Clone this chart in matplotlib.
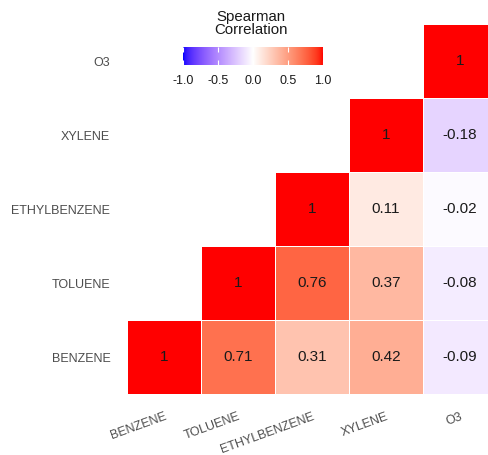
import numpy as np
import matplotlib
matplotlib.use("Agg")
import matplotlib.pyplot as plt
from matplotlib.colors import ListedColormap

plt.rcParams['font.family'] = ['Liberation Sans', 'DejaVu Sans']

# variables, bottom row / left column first
variables = ["BENZENE", "TOLUENE", "ETHYLBENZENE", "XYLENE", "O3"]
benzene = [1, 0.71, 0.31, 0.42, -0.09]
toluene = [0.71, 1, 0.76, 0.37, -0.08]
ethylbenzene = [0.31, 0.76, 1, 0.11, -0.02]
xylene = [0.42, 0.37, 0.11, 1, -0.18]
o3 = [-0.09, -0.08, -0.02, -0.18, 1]
corr = np.array([benzene, toluene, ethylbenzene, xylene, o3], dtype=float)
bar_ticks = [-1.0, -0.5, 0.0, 0.5, 1.0]


# blue - white - red gradient interpolated in CIELAB
def srgb_to_lab(c):
    c = np.asarray(c, dtype=float)
    lin = np.where(c <= 0.04045, c / 12.92, ((c + 0.055) / 1.055) ** 2.4)
    M = np.array([[0.4124, 0.3576, 0.1805],
                  [0.2126, 0.7152, 0.0722],
                  [0.0193, 0.1192, 0.9505]])
    xyz = M @ lin / np.array([0.95047, 1.0, 1.08883])
    f = np.where(xyz > 216 / 24389, np.cbrt(xyz), (24389 / 27 * xyz + 16) / 116)
    return np.array([116 * f[1] - 16, 500 * (f[0] - f[1]), 200 * (f[1] - f[2])])


def lab_to_srgb(lab):
    L, a, b = lab
    fy = (L + 16) / 116
    fx = fy + a / 500
    fz = fy - b / 200
    f = np.array([fx, fy, fz])
    xyz = np.where(f ** 3 > 216 / 24389, f ** 3, (116 * f - 16) / (24389 / 27))
    xyz = xyz * np.array([0.95047, 1.0, 1.08883])
    Minv = np.array([[3.2406, -1.5372, -0.4986],
                     [-0.9689, 1.8758, 0.0415],
                     [0.0557, -0.2040, 1.0570]])
    lin = Minv @ xyz
    lin = np.clip(lin, 0, 1)
    c = np.where(lin <= 0.0031308, 12.92 * lin, 1.055 * lin ** (1 / 2.4) - 0.055)
    return np.clip(c, 0, 1)


low = srgb_to_lab([0, 0, 1])
mid = srgb_to_lab([1, 1, 1])
high = srgb_to_lab([1, 0, 0])
cols = []
for t in np.linspace(0, 1, 512):
    if t < 0.5:
        lab = low + (mid - low) * (t / 0.5)
    else:
        lab = mid + (high - mid) * ((t - 0.5) / 0.5)
    cols.append(lab_to_srgb(lab))
cmap = ListedColormap(cols)

fig = plt.figure(figsize=(4.88, 4.55), dpi=100)
ax = fig.add_axes([0.2602, 0.134, 0.7582, 0.813])

n = len(variables)
rows, cols_idx = np.indices(corr.shape)
shown = np.ma.masked_where(cols_idx < rows, corr)
ax.pcolormesh(np.arange(n + 1) - 0.5, np.arange(n + 1) - 0.5, shown,
              cmap=cmap, vmin=-1, vmax=1, edgecolors='white', linewidth=0.5)

for r in range(n):
    for c in range(n):
        if c >= r:
            v = round(corr[r, c], 2)
            ax.text(c, r, f"{v:g}", ha='center', va='center',
                    fontsize=11, color='#1A1A1A')

ax.set_xlim(-0.5, n - 0.5)
ax.set_ylim(-0.5, n - 0.5)
ax.set_xticks(range(n))
ax.set_yticks(range(n))
ax.set_xticklabels(variables, rotation=20, ha='right', va='top',
                   rotation_mode='anchor')
ax.set_yticklabels(variables)
ax.tick_params(axis='x', length=0, pad=12, labelsize=9, labelcolor='#4D4D4D')
ax.tick_params(axis='y', length=0, pad=12, labelsize=9, labelcolor='#4D4D4D')
for s in ax.spines.values():
    s.set_visible(False)

# legend colour bar
cax = fig.add_axes([183 / 488, 1 - 65 / 455, 140 / 488, 18 / 455])
cax.imshow(np.linspace(-1, 1, 300)[None, :], cmap=cmap, vmin=-1, vmax=1,
           aspect='auto', extent=[-1, 1, 0, 1])
cax.set_xlim(-1, 1)
cax.set_yticks([])
cax.set_xticks(bar_ticks)
cax.set_xticklabels([f"{t:.1f}" for t in bar_ticks])
cax.tick_params(axis='x', direction='in', color='white', length=3.6, width=0.8,
                top=True, bottom=True, labelsize=9, labelcolor='#1A1A1A', pad=7)
for s in cax.spines.values():
    s.set_visible(False)

fig.text(251 / 488, 1 - 23.5 / 455, "Spearman\nCorrelation", ha='center',
         va='center', fontsize=10.8, color='#1A1A1A', linespacing=1.0)

fig.savefig("out.png", dpi=100)
